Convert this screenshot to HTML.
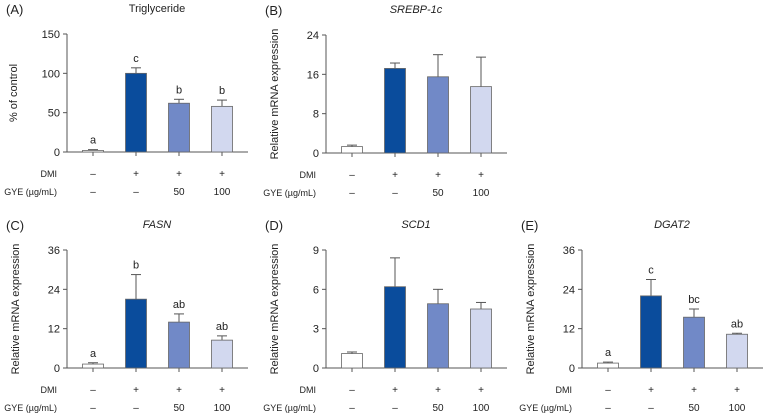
<!DOCTYPE html>
<html><head><meta charset="utf-8"><style>
body{margin:0;background:#fff;}
svg{display:block;font-family:"Liberation Sans",sans-serif;}
</style></head><body>
<svg id="fig" width="766" height="414" viewBox="0 0 766 414"></svg>
<script>
const groups = ["ctrl","DMI","DMI+GYE50","DMI+GYE100"];
const dmiLabels = ["\u2013","+","+","+"];
const gyeLabels = ["\u2013","\u2013","50","100"];
const valsA = [2,100,62,58];   const errA = [1,7,5,8];   const letA = ["a","c","b","b"];
const valsB = [1.3,17.2,15.5,13.5]; const errB = [0.3,1.1,4.5,6]; const letB = ["","","",""];
const valsC = [1.2,21,14,8.5]; const errC = [0.4,7.5,2.5,1.3]; const letC = ["a","b","ab","ab"];
const valsD = [1.1,6.2,4.9,4.5]; const errD = [0.12,2.2,1.1,0.5]; const letD = ["","","",""];
const valsE = [1.5,22,15.5,10.3]; const errE = [0.3,5,2.5,0.3]; const letE = ["a","c","bc","ab"];
const ticksA=[0,50,100,150], ticksB=[0,8,16,24], ticksC=[0,12,24,36], ticksD=[0,3,6,9], ticksE=[0,12,24,36];
const colors=["#ffffff","#0a4c9c","#7189c7","#d2d8ef"];
const NS="http://www.w3.org/2000/svg";
const fig=document.getElementById('fig');
function el(tag,attrs,parent,text){const e=document.createElementNS(NS,tag);for(const k in attrs)e.setAttribute(k,attrs[k]);if(text!==undefined)e.textContent=text;(parent||fig).appendChild(e);return e;}
function panel(id,ox,oy,title,italic,ylab,ticks,vals,errs,lets){
  const g=el('g',{transform:`translate(${ox},${oy})`});
  
  
  const ax=67, top=34, zero=152, right=248;
  const ymax=ticks[ticks.length-1];
  const y=v=>zero-(v/ymax)*(zero-top);
  const xc=i=>93+i*43;
  const pl=el('text',{x:6,y:14,'font-size':13,fill:'#222'},g,'('+id+')');
   
  const t=el('text',{x:157,y:12,'font-size':11,'text-anchor':'middle',fill:'#222','font-style':italic?'italic':'normal'},g,title);
   
  const yl=el('text',{x:0,y:0,'font-size':11,'text-anchor':'middle',fill:'#222',transform:`translate(${italic||ylab!=='% of control'?19:17},${(top+zero)/2}) rotate(-90)`},g,ylab);
   
  el('line',{x1:ax,y1:top,x2:ax,y2:zero,stroke:'#555','stroke-width':1},g);
  el('line',{x1:ax,y1:zero,x2:right,y2:zero,stroke:'#555','stroke-width':1},g);
  ticks.forEach(tv=>{
    el('line',{x1:ax-4,y1:y(tv),x2:ax,y2:y(tv),stroke:'#555'},g);
    const tl=el('text',{x:ax-7,y:y(tv)+4,'font-size':11,'text-anchor':'end',fill:'#222'},g,tv);
     
  });
  vals.forEach((v,i)=>{
    const cx=xc(i), w=21;
    el('line',{x1:cx,y1:zero,x2:cx,y2:zero+4,stroke:'#555'},g);
    const et=y(v+errs[i]);
    const eb=el('line',{x1:cx,y1:et,x2:cx,y2:y(v),stroke:'#555'},g);
     
    el('line',{x1:cx-5,y1:et,x2:cx+5,y2:et,stroke:'#555'},g);
    const b=el('rect',{x:cx-w/2,y:y(v),width:w,height:zero-y(v),fill:colors[i],stroke:'#666','stroke-width':0.8},g);
     
    if(lets[i]){const l=el('text',{x:cx,y:et-6,'font-size':11,'text-anchor':'middle',fill:'#222'},g,lets[i]);
       }
    const d=el('text',{x:cx,y:177,'font-size':10,'text-anchor':'middle',fill:'#222'},g,dmiLabels[i]);
     
    const gy=el('text',{x:cx,y:195,'font-size':10,'text-anchor':'middle',fill:'#222'},g,gyeLabels[i]);
     
  });
  const dl=el('text',{x:57,y:177,'font-size':9,'text-anchor':'end',fill:'#222'},g,'DMI');
   
  const gl=el('text',{x:57,y:195,'font-size':9,'text-anchor':'end',fill:'#222'},g,'GYE (\u00b5g/mL)');
   
}
panel('A',0,0,'Triglyceride',false,'% of control',ticksA,valsA,errA,letA);
panel('B',259,1,'SREBP-1c',true,'Relative mRNA expression',ticksB,valsB,errB,letB);
panel('C',0,216,'FASN',true,'Relative mRNA expression',ticksC,valsC,errC,letC);
panel('D',259,216,'SCD1',true,'Relative mRNA expression',ticksD,valsD,errD,letD);
panel('E',515,216,'DGAT2',true,'Relative mRNA expression',ticksE,valsE,errE,letE);
</script>
</body></html>
